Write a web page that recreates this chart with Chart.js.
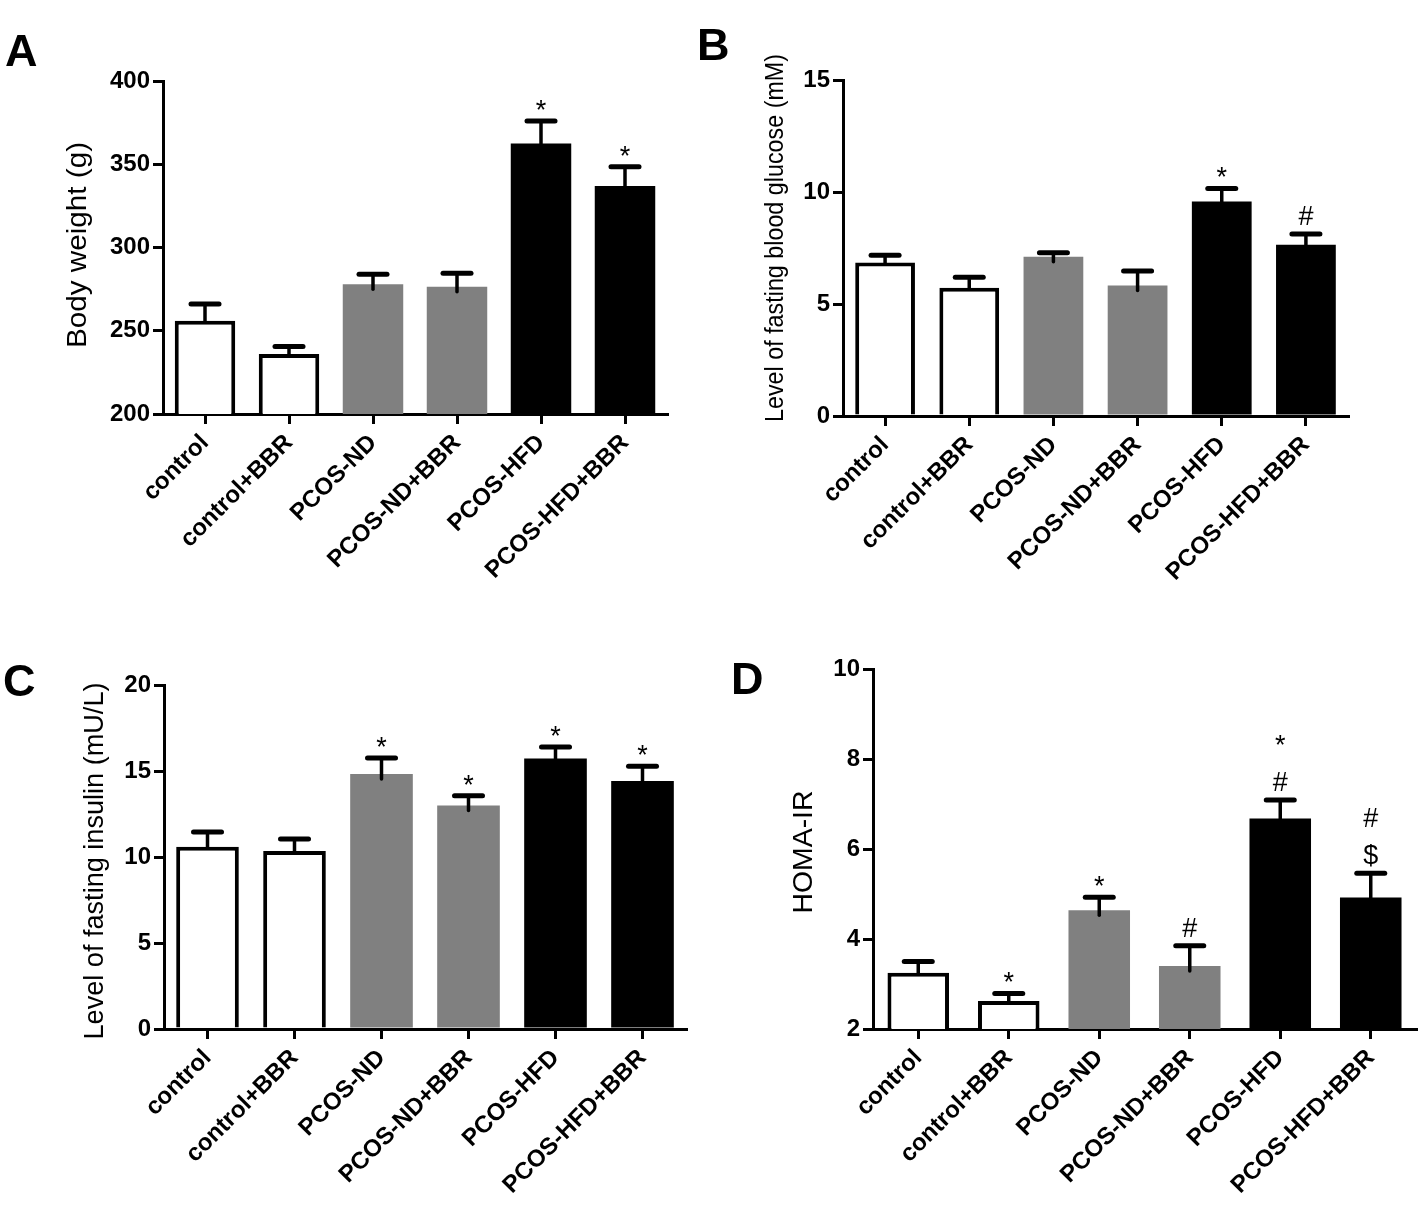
<!DOCTYPE html>
<html>
<head>
<meta charset="utf-8">
<script src="https://cdn.jsdelivr.net/npm/chart.js@4.4.1/dist/chart.umd.min.js"></script>
<style>
  body { margin: 0; background: #fff; width: 1418px; height: 1224px; position: relative; overflow: hidden;
         font-family: 'Liberation Sans', Arial, sans-serif; }
  .panel { position: absolute; }
  .letter { position: absolute; font-size: 45px; font-weight: bold; line-height: 1; color: #000; }
</style>
</head>
<body>
<canvas class="panel" id="chartA" width="700" height="570" style="left:0;top:40px"></canvas>
<canvas class="panel" id="chartB" width="718" height="570" style="left:700px;top:40px"></canvas>
<canvas class="panel" id="chartC" width="710" height="584" style="left:0;top:640px"></canvas>
<canvas class="panel" id="chartD" width="718" height="594" style="left:700px;top:630px"></canvas>
<div class="letter" style="left:5px;top:28px">A</div>
<div class="letter" style="left:697px;top:22px">B</div>
<div class="letter" style="left:3px;top:658px">C</div>
<div class="letter" style="left:731px;top:656px">D</div>
<script>
// groups on the x axis (same in all four panels)
const groups = ['control', 'control+BBR', 'PCOS-ND', 'PCOS-ND+BBR', 'PCOS-HFD', 'PCOS-HFD+BBR'];

// A - body weight (g)
const weightTicks = [200, 250, 300, 350, 400];
const weightMean = [256, 236, 278, 276.5, 362.5, 337];
const weightSem = [10, 4.5, 6, 8, 13.5, 11.5];
const weightMarks = [[], [], [], [], ['*'], ['*']];

// B - fasting blood glucose (mM)
const glucoseTicks = [0, 5, 10, 15];
const glucoseMean = [6.85, 5.73, 7.11, 5.83, 9.58, 7.65];
const glucoseSem = [0.33, 0.46, 0.18, 0.64, 0.58, 0.48];
const glucoseMarks = [[], [], [], [], ['*'], ['#']];

// C - fasting insulin (mU/L)
const insulinTicks = [0, 5, 10, 15, 20];
const insulinMean = [10.6, 10.35, 14.83, 13.0, 15.73, 14.42];
const insulinSem = [0.85, 0.7, 0.93, 0.56, 0.66, 0.85];
const insulinMarks = [[], [], ['*'], ['*'], ['*'], ['*']];

// D - HOMA-IR (marks listed from bottom to top)
const homaTicks = [2, 4, 6, 8, 10];
const homaMean = [3.25, 2.62, 4.64, 3.4, 6.68, 4.92];
const homaSem = [0.25, 0.17, 0.29, 0.45, 0.41, 0.54];
const homaMarks = [[], ['*'], ['*'], ['#'], ['#', '*'], ['$', '#']];

// bar look per group
const barFill = ['#ffffff', '#ffffff', '#808080', '#808080', '#000000', '#000000'];
const barBorder = [4, 4, 0, 0, 0, 0];

const fontFamily = "'Liberation Sans', Arial, sans-serif";
Chart.defaults.font.family = fontFamily;
Chart.defaults.color = '#000';

// draws the upper error bar and the * # $ marks above it
const errorBars = {
    id: 'errorBars',
    afterDatasetsDraw(chart, args, opts) {
        const ctx = chart.ctx;
        const yScale = chart.scales.y;
        const values = chart.data.datasets[0].data;
        const bars = chart.getDatasetMeta(0).data;
        ctx.save();
        ctx.strokeStyle = '#000';
        ctx.fillStyle = '#000';
        ctx.lineCap = 'round';
        bars.forEach((bar, i) => {
            const top = yScale.getPixelForValue(values[i]);
            const cap = yScale.getPixelForValue(values[i] + opts.errors[i]);
            ctx.lineWidth = 3.5;
            ctx.beginPath();
            ctx.moveTo(bar.x, barFill[i] === '#ffffff' ? top : top + 5);
            ctx.lineTo(bar.x, cap);
            ctx.stroke();
            ctx.lineWidth = 5;
            ctx.beginPath();
            ctx.moveTo(bar.x - opts.capHalf, cap);
            ctx.lineTo(bar.x + opts.capHalf, cap);
            ctx.stroke();

            ctx.font = '27px ' + fontFamily;
            ctx.textAlign = 'center';
            ctx.textBaseline = 'alphabetic';
            let base = cap;
            opts.marks[i].forEach((m, k) => {
                base = k === 0 ? cap - (m === '*' ? 2 : 9) : base - 37;
                ctx.fillText(m, bar.x, base);
            });
        });
        ctx.restore();
    }
};

// rotated y axis title, placed by hand and stretched/squeezed to the length seen in the figure
const sideTitle = {
    id: 'sideTitle',
    afterDraw(chart, args, opts) {
        const ctx = chart.ctx;
        ctx.save();
        ctx.fillStyle = '#000';
        ctx.font = opts.size + 'px ' + fontFamily;
        ctx.textAlign = 'center';
        ctx.textBaseline = 'middle';
        const w = ctx.measureText(opts.text).width;
        ctx.translate(opts.x, opts.y);
        ctx.rotate(-Math.PI / 2);
        ctx.scale(opts.len / w, 1);
        ctx.fillText(opts.text, 0, 0);
        ctx.restore();
    }
};

function makePanel(id, p) {
    return new Chart(document.getElementById(id), {
        type: 'bar',
        data: {
            labels: groups,
            datasets: [{
                data: p.values,
                backgroundColor: barFill,
                borderColor: '#000',
                borderWidth: barBorder,
                barPercentage: p.barPct,
                categoryPercentage: 1
            }]
        },
        options: {
            responsive: false,
            animation: false,
            devicePixelRatio: 1,
            layout: { padding: { top: p.padTop, right: p.padRight, left: 0, bottom: 0 } },
            plugins: {
                legend: { display: false },
                tooltip: { enabled: false },
                errorBars: { errors: p.errors, marks: p.marks, capHalf: 14 },
                sideTitle: p.title
            },
            scales: {
                x: {
                    offset: true,
                    grid: { offset: false, drawOnChartArea: false, color: '#000', lineWidth: 3, tickLength: 10 },
                    border: { color: '#000', width: 3 },
                    ticks: { autoSkip: false, minRotation: 45, maxRotation: 45, padding: 5, color: '#000',
                             font: { size: 24, weight: 'bold' } },
                    afterFit: s => { s.height = p.xh; }
                },
                y: {
                    min: p.ticks[0],
                    max: p.ticks[p.ticks.length - 1],
                    ticks: { stepSize: p.ticks[1] - p.ticks[0], padding: 3, color: '#000',
                             font: { size: 24, weight: 'bold' } },
                    grid: { drawOnChartArea: false, color: '#000', lineWidth: 3, tickLength: 10 },
                    border: { color: '#000', width: 3 },
                    afterFit: s => { s.width = p.yw; }
                }
            }
        },
        plugins: [errorBars, sideTitle]
    });
}

makePanel('chartA', { values: weightMean, errors: weightSem, marks: weightMarks, ticks: weightTicks,
    title: { text: 'Body weight (g)', size: 27, len: 206, x: 79, y: 205 },
    yw: 163, xh: 196, padTop: 41, padRight: 33, barPct: 0.72 });
makePanel('chartB', { values: glucoseMean, errors: glucoseSem, marks: glucoseMarks, ticks: glucoseTicks,
    title: { text: 'Level of fasting blood glucose (mM)', size: 26, len: 368, x: 76, y: 198 },
    yw: 143, xh: 194, padTop: 40, padRight: 70, barPct: 0.71 });
makePanel('chartC', { values: insulinMean, errors: insulinSem, marks: insulinMarks, ticks: insulinTicks,
    title: { text: 'Level of fasting insulin (mU/L)', size: 27, len: 357, x: 96, y: 221 },
    yw: 164, xh: 195, padTop: 45, padRight: 24, barPct: 0.72 });
makePanel('chartD', { values: homaMean, errors: homaSem, marks: homaMarks, ticks: homaTicks,
    title: { text: 'HOMA-IR', size: 28, len: 123, x: 104, y: 222 },
    yw: 173, xh: 195, padTop: 39, padRight: 2, barPct: 0.68 });
</script>
</body>
</html>
